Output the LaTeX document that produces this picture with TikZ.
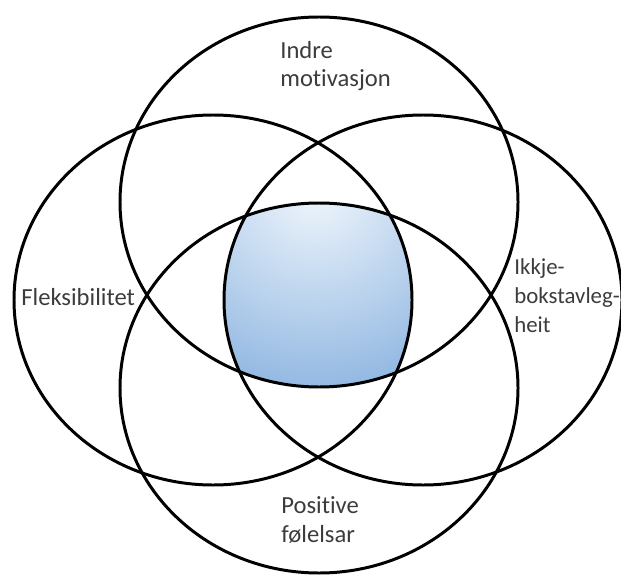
\documentclass[tikz,border=0pt]{standalone}
\usepackage{fontspec}
\setmainfont[Ligatures=NoCommon]{Carlito}
\usepackage{tikz}

\definecolor{labelGray}{RGB}{60,60,60}
\definecolor{blueLight}{RGB}{240,246,252}
\definecolor{blueDark}{RGB}{95,150,212}

\tikzset{
    ring/.style={line width=1.7pt,black},
    label text/.style={anchor=base west,inner sep=0pt,align=left,text=labelGray,
        font=\fontsize{14}{16.5}\selectfont}
}

\begin{document}
\begin{tikzpicture}[x=0.02cm,y=-0.02cm]
    \useasboundingbox (0,0) rectangle (621,574);
    \coordinate (cTop) at (319,202);
    \coordinate (cLeft) at (213,300);
    \coordinate (cRight) at (423,300);
    \coordinate (cBottom) at (319,388);
    % shaded middle part, inside all four rings
    \begin{scope}
        \foreach \c in {cTop,cLeft,cRight,cBottom} {
            \clip (\c) ellipse [x radius=199, y radius=185];
        }
        \shade[inner color=blueLight,outer color=blueDark] (5,-120) rectangle (625,500);
    \end{scope}
    \foreach \c in {cTop,cLeft,cRight,cBottom} {
        \draw[ring] (\c) ellipse [x radius=199, y radius=185];
    }
    \node[label text] (motiv) at (280,87) {Indre\\motivasjon};
    \node[label text] (flex) at (21,305) {Fleksibilitet};
    \node[label text,font=\fontsize{13}{16.5}\selectfont] (ikkje) at (514,332) {Ikkje-\\bokstavleg-\\heit};
    \node[label text] (posit) at (281,542) {Positive\\følelsar};
\end{tikzpicture}
\end{document}
